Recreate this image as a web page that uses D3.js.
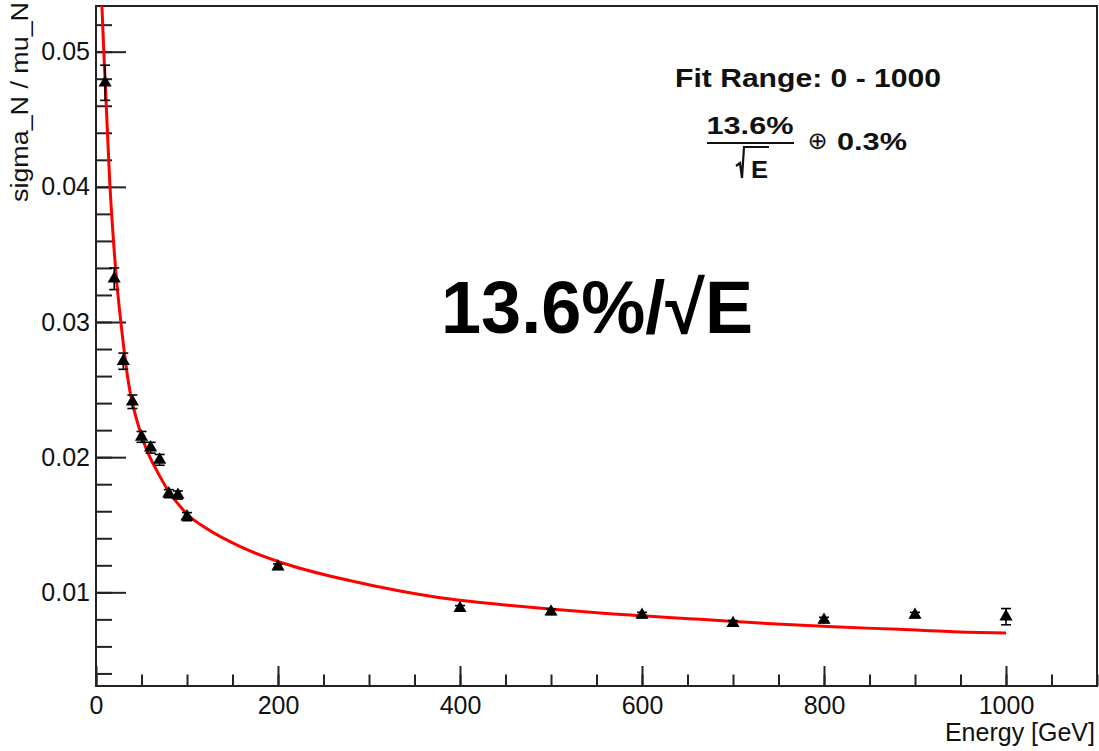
<!DOCTYPE html>
<html>
<head>
<meta charset="utf-8">
<script src="https://cdn.jsdelivr.net/npm/d3@7"></script>
<style>
  html, body { margin: 0; padding: 0; background: #fff; }
  svg text { font-family: "Liberation Sans", Arial, Helvetica, sans-serif; fill: #111; }
</style>
</head>
<body>
<svg id="chart" width="1099" height="751"></svg>
<script>
// measured points: energy, sigma_N/mu_N and its error
const energy = [10, 20, 30, 40, 50, 60, 70, 80, 90, 100, 200, 400, 500, 600, 700, 800, 900, 1000];
const sigmaOverMu = [0.0477, 0.0332, 0.0271, 0.0241, 0.0215, 0.0207, 0.0198, 0.0173, 0.0172, 0.0156,
  0.0119, 0.00882, 0.00856, 0.00832, 0.00771, 0.00795, 0.00832, 0.0082];
const sigmaErr = [0.0013, 0.0008, 0.0006, 0.0005, 0.0004, 0.0004, 0.0004, 0.0003, 0.0003, 0.0003,
  0.0002, 0.0002, 0.0002, 0.0002, 0.0002, 0.0002, 0.0002, 0.0006];

// red fit curve
const fitEnergy = [6.5, 8.5, 10.5, 15, 19, 23, 27, 35, 50, 70, 100, 122, 158, 213, 270, 334, 389, 444,
  499, 554, 664, 737, 810, 883, 957, 1000];
const fitValue = [0.0534, 0.0501, 0.0472, 0.0405, 0.0362, 0.0328, 0.0302, 0.0258, 0.0216, 0.0186, 0.0158,
  0.0147, 0.0134, 0.0120, 0.0110, 0.0101, 0.0095, 0.0091, 0.00876, 0.00847, 0.0080, 0.0077, 0.00745,
  0.00726, 0.00705, 0.0070];

// axis ticks
const xMajor = [0, 200, 400, 600, 800, 1000];
const xMinor = d3.range(0, 1100 + 1, 50);
const yMajor = [0.01, 0.02, 0.03, 0.04, 0.05];
const yMinor = d3.range(0.004, 0.0531, 0.002);

const padLeft = 96, padRight = 1097, padTop = 6, padBottom = 686;

const svg = d3.select("#chart");

const x = d3.scaleLinear().domain([0, 1100]).range([padLeft, padRight]);
const y = d3.scaleLinear().domain([0.00307, 0.05338]).range([padBottom, padTop]);

//minor ticks first, then the major ones with labels
svg.append("g")
  .attr("transform", `translate(0,${padBottom})`)
  .call(d3.axisBottom(x).tickValues(xMinor).tickSize(-11.5).tickFormat(""))
  .call(g => g.select(".domain").remove());

svg.append("g")
  .attr("transform", `translate(0,${padBottom})`)
  .call(d3.axisBottom(x).tickValues(xMajor).tickSize(-20).tickPadding(10).tickFormat(d3.format("d")))
  .call(g => g.select(".domain").remove())
  .call(g => g.selectAll("text").style("font-size", "25px").attr("fill", "#111"));

svg.append("g")
  .attr("transform", `translate(${padLeft},0)`)
  .call(d3.axisLeft(y).tickValues(yMinor).tickSize(-16).tickFormat(""))
  .call(g => g.select(".domain").remove());

svg.append("g")
  .attr("transform", `translate(${padLeft},0)`)
  .call(d3.axisLeft(y).tickValues(yMajor).tickSize(-30).tickPadding(6).tickFormat(d => d.toFixed(2)))
  .call(g => g.select(".domain").remove())
  .call(g => g.selectAll("text").style("font-size", "25px").attr("fill", "#111"));

svg.selectAll(".tick line").attr("stroke", "#222").attr("stroke-width", 2);

// frame
svg.append("rect")
  .attr("x", padLeft).attr("y", padTop)
  .attr("width", padRight - padLeft).attr("height", padBottom - padTop)
  .attr("fill", "none").attr("stroke", "#222").attr("stroke-width", 2);

// axis titles
svg.append("text")
  .attr("x", 1095).attr("y", 741)
  .attr("text-anchor", "end")
  .style("font-size", "25px")
  .text("Energy [GeV]");

svg.append("text")
  .attr("transform", "translate(28,2) rotate(-90)")
  .attr("text-anchor", "end")
  .attr("textLength", 200).attr("lengthAdjust", "spacingAndGlyphs")
  .style("font-size", "23px")
  .text("sigma_N / mu_N");

// fit curve
const line = d3.line()
  .x((d, i) => x(fitEnergy[i]))
  .y(d => y(d))
  .curve(d3.curveMonotoneX);

svg.append("path")
  .datum(fitValue)
  .attr("fill", "none")
  .attr("stroke", "#ff0000")
  .attr("stroke-width", 3)
  .attr("d", line);

// error bars
const pts = energy.map((e, i) => ({ e: e, v: sigmaOverMu[i], err: sigmaErr[i] }));

const bars = svg.append("g").attr("stroke", "#000").attr("stroke-width", 1.6);
bars.selectAll("line.bar").data(pts).join("line").attr("class", "bar")
  .attr("x1", d => x(d.e)).attr("x2", d => x(d.e))
  .attr("y1", d => y(d.v + d.err)).attr("y2", d => y(d.v - d.err));
bars.selectAll("line.capTop").data(pts).join("line").attr("class", "capTop")
  .attr("x1", d => x(d.e) - 5).attr("x2", d => x(d.e) + 5)
  .attr("y1", d => y(d.v + d.err)).attr("y2", d => y(d.v + d.err));
bars.selectAll("line.capBot").data(pts).join("line").attr("class", "capBot")
  .attr("x1", d => x(d.e) - 5).attr("x2", d => x(d.e) + 5)
  .attr("y1", d => y(d.v - d.err)).attr("y2", d => y(d.v - d.err));

// triangle markers
const tri = d3.symbol().type(d3.symbolTriangle).size(75);
svg.selectAll("path.marker")
  .data(pts)
  .join("path")
  .attr("class", "marker")
  .attr("transform", d => `translate(${x(d.e)},${y(d.v)})`)
  .attr("d", tri)
  .attr("fill", "#000");

// fit label
svg.append("text")
  .attr("x", 808).attr("y", 87)
  .attr("text-anchor", "middle")
  .attr("textLength", 266).attr("lengthAdjust", "spacingAndGlyphs")
  .style("font-size", "25px").style("font-weight", "bold")
  .text("Fit Range: 0 - 1000");

svg.append("text")
  .attr("x", 750).attr("y", 134)
  .attr("text-anchor", "middle")
  .attr("textLength", 87).attr("lengthAdjust", "spacingAndGlyphs")
  .style("font-size", "24px").style("font-weight", "bold")
  .text("13.6%");

svg.append("line")
  .attr("x1", 707).attr("x2", 794).attr("y1", 143).attr("y2", 143)
  .attr("stroke", "#111").attr("stroke-width", 2);

svg.append("path")
  .attr("d", "M736,166 L740,163 L742,178 L744,147 L769,147")
  .attr("fill", "none").attr("stroke", "#111").attr("stroke-width", 2.2);

svg.append("text")
  .attr("x", 751).attr("y", 178)
  .attr("textLength", 17).attr("lengthAdjust", "spacingAndGlyphs")
  .style("font-size", "24px").style("font-weight", "bold")
  .text("E");

svg.append("text")
  .attr("x", 817.5).attr("y", 149)
  .attr("text-anchor", "middle")
  .style("font-family", "DejaVu Sans")
  .style("font-size", "24px")
  .text("⊕");

svg.append("text")
  .attr("x", 837).attr("y", 150)
  .attr("textLength", 70).attr("lengthAdjust", "spacingAndGlyphs")
  .style("font-size", "24px").style("font-weight", "bold")
  .text("0.3%");

// big annotation
svg.append("text")
  .attr("x", 441).attr("y", 333)
  .attr("textLength", 312).attr("lengthAdjust", "spacingAndGlyphs")
  .style("font-size", "74px").style("font-weight", "bold")
  .style("fill", "#000")
  .text("13.6%/√E");
</script>
</body>
</html>
